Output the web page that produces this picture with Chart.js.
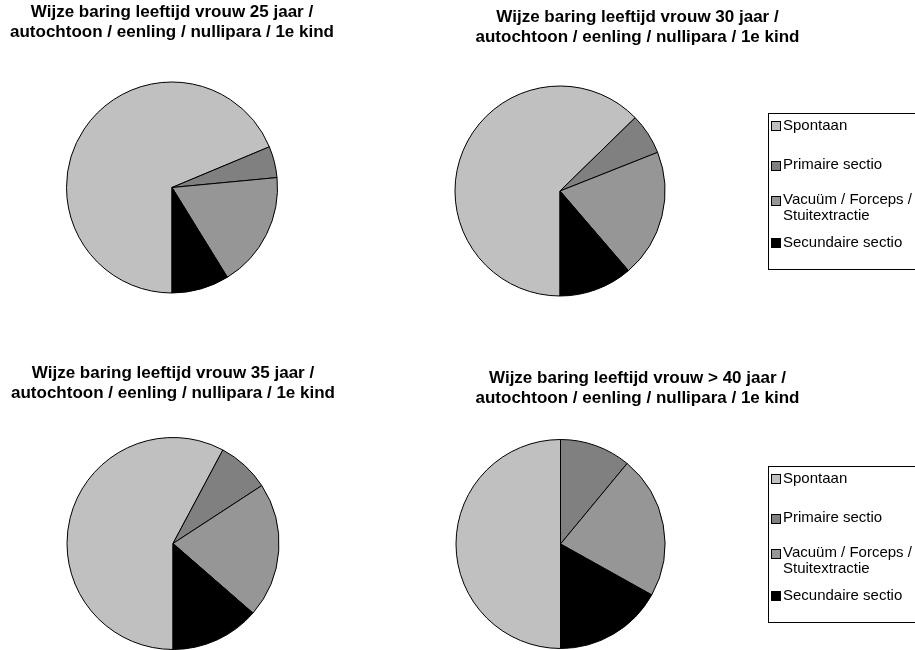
<!DOCTYPE html>
<html>
<head>
<meta charset="utf-8">
<title>Wijze baring per leeftijd</title>
<script src="https://cdn.jsdelivr.net/npm/chart.js@4/dist/chart.umd.min.js"></script>
<style>
  html, body { margin: 0; padding: 0; background: #fff; width: 915px; height: 650px; overflow: hidden; }
  .pane { position: absolute; }
  canvas { display: block; }
</style>
</head>
<body>
<div class="pane" style="left:0;top:0"><canvas id="pie25" width="344" height="295"></canvas></div>
<div class="pane" style="left:360px;top:0"><canvas id="pie30" width="555" height="300"></canvas></div>
<div class="pane" style="left:0;top:350px"><canvas id="pie35" width="346" height="300"></canvas></div>
<div class="pane" style="left:360px;top:350px"><canvas id="pie40" width="555" height="300"></canvas></div>
<script>
// Birth method categories (legend order = slice order, clockwise from the bottom)
const categories = ['Spontaan', 'Primaire sectio', 'Vacuüm / Forceps / Stuitextractie', 'Secundaire sectio'];
const legendLines = [['Spontaan'], ['Primaire sectio'], ['Vacuüm / Forceps /', 'Stuitextractie'], ['Secundaire sectio']];

// Age of the mother, one pie each
const ageLabels = ['25 jaar', '30 jaar', '35 jaar', '> 40 jaar'];
const subtitle = 'autochtoon / eenling / nullipara / 1e kind';

// Share of each birth method (%)
const share25 = [68.7, 4.8, 17.7, 8.8];
const share30 = [62.7, 6.3, 19.7, 11.3];
const share35 = [57.8, 8.0, 20.6, 13.6];
const share40 = [50.0, 11.0, 22.1, 16.9];

// Styling
const sliceColors = ['#c0c0c0', '#808080', '#969696', '#000000'];
const FONT = "'Liberation Sans', Arial, Helvetica, sans-serif";
const LEGEND_FONT_SIZE = 15;
const LEGEND_ROW_Y = [12.5, 52, 87, 129.5];   // row centres below the frame top
const LEGEND_LINE_GAP = 15.5;
const LEGEND_FRAME_HEIGHT = 156;
const SWATCH = 9;

Chart.defaults.font.family = FONT;

function drawLegend(box, cfg) {
  const ctx = box.ctx;
  const fx = Math.round(box.left + cfg.frameInset) + 0.5;
  const fy = cfg.frameTop + 0.5;
  ctx.save();
  ctx.lineWidth = 1;
  ctx.strokeStyle = '#000';
  ctx.strokeRect(fx, fy, box.right - fx + 20, LEGEND_FRAME_HEIGHT);
  ctx.font = LEGEND_FONT_SIZE + 'px ' + FONT;
  ctx.textBaseline = 'middle';
  ctx.textAlign = 'left';
  legendLines.forEach((lines, i) => {
    const cy = cfg.frameTop + LEGEND_ROW_Y[i];
    const sy = Math.round(cy - SWATCH / 2) + 0.5;
    ctx.fillStyle = sliceColors[i];
    ctx.fillRect(fx + 3, sy, SWATCH, SWATCH);
    ctx.strokeRect(fx + 3, sy, SWATCH, SWATCH);
    ctx.fillStyle = '#000';
    lines.forEach((line, j) => {
      ctx.fillText(line, fx + 14.5, cy + j * LEGEND_LINE_GAP);
    });
  });
  ctx.restore();
}

// Right-hand layout box that holds the framed legend
function sideLegend(cfg) {
  return {
    id: 'sideLegend',
    start(chart) {
      const box = {
        chart: chart, ctx: chart.ctx, options: {},
        position: 'right', weight: 1000, fullSize: false,
        left: 0, top: 0, right: 0, bottom: 0, width: 0, height: 0,
        isHorizontal() { return false; },
        update(maxWidth, maxHeight) { this.width = cfg.width; this.height = maxHeight; },
        draw() { drawLegend(this, cfg); }
      };
      Chart.layouts.addBox(chart, box);
    }
  };
}

function makePie(id, age, values, geo) {
  return new Chart(document.getElementById(id), {
    type: 'pie',
    data: {
      labels: categories,
      datasets: [{
        data: values,
        backgroundColor: sliceColors,
        borderColor: '#000',
        borderWidth: 1,
        hoverBorderWidth: 1,
        hoverOffset: 0,
        offset: 0
      }]
    },
    plugins: geo.legend ? [sideLegend(geo.legend)] : [],
    options: {
      responsive: false,
      animation: false,
      devicePixelRatio: 1,
      events: [],
      rotation: 180,
      radius: geo.radius,
      layout: { padding: { top: 0, left: 0, right: 0, bottom: geo.padBottom || 0 } },
      plugins: {
        legend: { display: false },
        tooltip: { enabled: false },
        title: {
          display: true,
          text: ['Wijze baring leeftijd vrouw ' + age + ' /', subtitle],
          color: '#000',
          font: { size: 17, weight: 'bold', lineHeight: '20px' },
          padding: { top: geo.titleTop, bottom: geo.titleBottom }
        }
      }
    }
  });
}

makePie('pie25', ageLabels[0], share25, { radius: 105.5, titleTop: 2.2, titleBottom: 37.8 });
makePie('pie30', ageLabels[1], share30, { radius: 105, titleTop: 7.5, titleBottom: 34.5,
  legend: { width: 155, frameInset: 8, frameTop: 113 } });
makePie('pie35', ageLabels[2], share35, { radius: 106, titleTop: 13.3, titleBottom: 33.7 });
makePie('pie40', ageLabels[3], share40, { radius: 104.5, titleTop: 18, titleBottom: 32, padBottom: 2,
  legend: { width: 154, frameInset: 7, frameTop: 116 } });
</script>
</body>
</html>
